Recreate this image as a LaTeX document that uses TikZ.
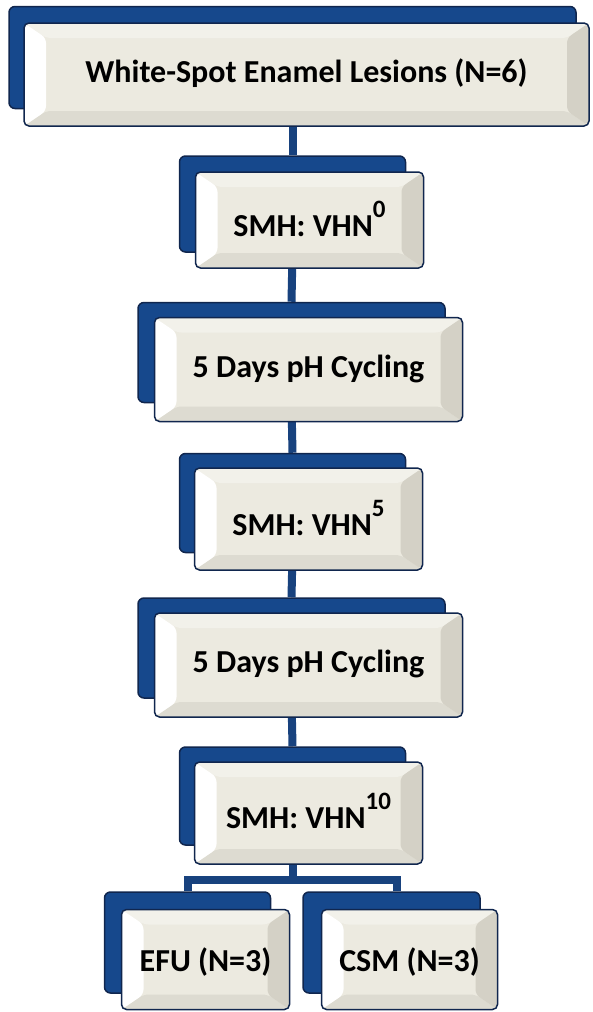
\documentclass[tikz,border=0pt]{standalone}
\usepackage{fontspec}
\setmainfont{Carlito}
\usetikzlibrary{positioning,backgrounds}

\definecolor{boxblue}{RGB}{22,72,140}
\definecolor{boxedge}{RGB}{16,38,78}
\definecolor{linkblue}{RGB}{24,66,126}
\definecolor{face}{RGB}{236,234,224}
\definecolor{bevtop}{RGB}{242,241,234}
\definecolor{bevright}{RGB}{212,209,198}
\definecolor{bevbot}{RGB}{221,219,209}

\tikzset{
  backbox/.style 2 args={draw=boxedge, fill=boxblue, line width=1.5pt,
    rounded corners=6pt, minimum width=#1, minimum height=#2, inner sep=0pt},
  frontbox/.style 2 args={draw=boxedge, fill=face, line width=1.5pt,
    rounded corners=5pt, minimum width=#1, minimum height=#2, inner sep=0pt,
    text height=21pt, text depth=6pt,
    font=\bfseries\fontsize{32}{32}\selectfont,
    path picture={
      \path (path picture bounding box.north west) coordinate (pnw)
            (path picture bounding box.north east) coordinate (pne)
            (path picture bounding box.south west) coordinate (psw)
            (path picture bounding box.south east) coordinate (pse);
      \fill[bevtop] (pnw) -- (pne) -- ([shift={(-22pt,-15pt)}]pne) -- ([shift={(22pt,-15pt)}]pnw) -- cycle;
      \fill[bevbot] (psw) -- (pse) -- ([shift={(-22pt,15pt)}]pse) -- ([shift={(22pt,15pt)}]psw) -- cycle;
      \fill[white] (pnw) -- ([shift={(22pt,-15pt)}]pnw) -- ([shift={(22pt,15pt)}]psw) -- (psw) -- cycle;
      \fill[bevright] (pne) -- ([shift={(-22pt,-15pt)}]pne) -- ([shift={(-22pt,15pt)}]pse) -- (pse) -- cycle;
    }},
  textdrop/.style={text height=#1},
  link/.style={draw=linkblue, line width=8pt}
}
\newcommand{\upnum}[1]{\raisebox{19pt}{\fontsize{25}{25}\selectfont #1}}

\begin{document}
\begin{tikzpicture}[x=1pt, y=-1pt]
\useasboundingbox (0,0) rectangle (592,1012);

% Back boxes
\node[backbox={567pt}{102pt}] (lesionsback) at (292.5,57.5) {};
\node[backbox={226pt}{96pt}] (vhnzeroback) at (292.5,204) {};
\node[backbox={307pt}{100pt}] (cycleoneback) at (291.5,352.5) {};
\node[backbox={226pt}{99pt}] (vhnfiveback) at (292.5,503) {};
\node[backbox={307pt}{100pt}] (cycletwoback) at (291.5,648) {};
\node[backbox={226pt}{98pt}] (vhntenback) at (292.5,796) {};
\node[backbox={166pt}{101pt}] (efuback) at (187.5,942.5) {};
\node[backbox={177pt}{101pt}] (csmback) at (391.5,942.5) {};

% Front boxes with the texts
\node[frontbox={565pt}{103pt}] (lesions) at ([shift={(14pt,-17pt)}]lesionsback.center) {White-Spot Enamel Lesions (N=6)};
\node[frontbox={228pt}{96pt}, textdrop=38pt] (vhnzero) at ([shift={(17pt,-16pt)}]vhnzeroback.center) {SMH: VHN\upnum{0}};
\node[frontbox={308pt}{104pt}] (cycleone) at ([shift={(17pt,-17pt)}]cycleoneback.center) {5 Days pH Cycling};
\node[frontbox={228pt}{102pt}, textdrop=38pt] (vhnfive) at ([shift={(16pt,-16pt)}]vhnfiveback.center) {SMH: VHN\upnum{5}};
\node[frontbox={308pt}{104pt}] (cycletwo) at ([shift={(17pt,-17pt)}]cycletwoback.center) {5 Days pH Cycling};
\node[frontbox={228pt}{102pt}, textdrop=36pt] (vhnten) at ([shift={(16pt,-17pt)}]vhntenback.center) {SMH: VHN\upnum{10}};
\node[frontbox={168pt}{100pt}, textdrop=30pt] (efu) at ([shift={(18pt,-17pt)}]efuback.center) {EFU (N=3)};
\node[frontbox={176pt}{100pt}, textdrop=30pt] (csm) at ([shift={(18pt,-17pt)}]csmback.center) {CSM (N=3)};

% Connectors behind the boxes
\coordinate (split) at ([yshift=-34pt]vhntenback.south);
\begin{pgfonlayer}{background}
\draw[link] (lesionsback.south) -- (vhnzeroback.north);
\draw[link] (vhnzeroback.south) -- (cycleoneback.north);
\draw[link] (cycleoneback.south) -- (vhnfiveback.north);
\draw[link] (vhnfiveback.south) -- (cycletwoback.north);
\draw[link] (cycletwoback.south) -- (vhntenback.north);
\draw[link] (vhntenback.south) -- (split);
\draw[link] (split) -| (efuback.north);
\draw[link] (split) -| ([xshift=5pt]csmback.north);
\end{pgfonlayer}
\end{tikzpicture}
\end{document}
